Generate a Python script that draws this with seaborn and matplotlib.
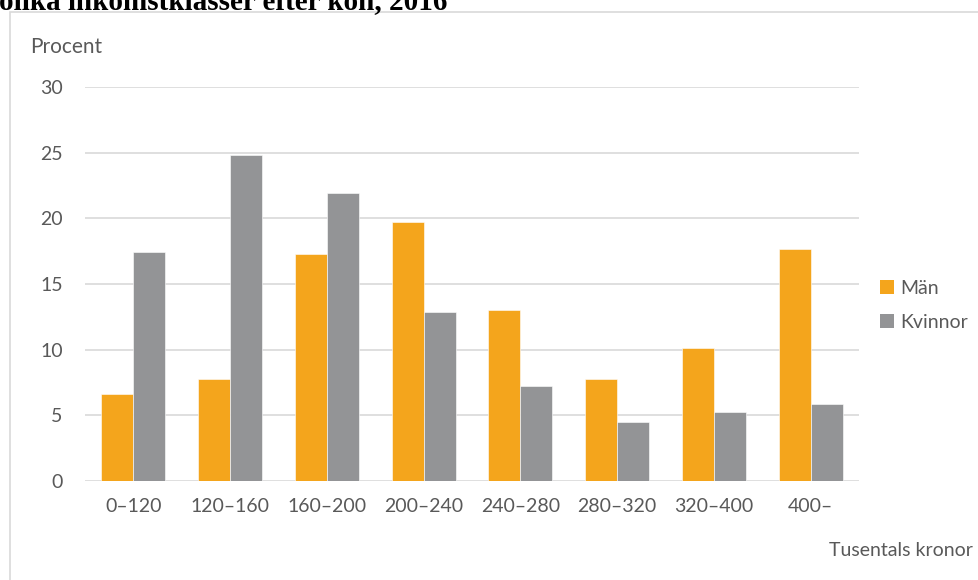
import matplotlib
matplotlib.use("Agg")
import matplotlib.pyplot as plt
import seaborn as sns
import pandas as pd
from matplotlib.patches import Rectangle, Patch

categories = ["0–120", "120–160", "160–200", "200–240", "240–280", "280–320", "320–400", "400–"]
man = [6.6, 7.75, 17.3, 19.7, 13.0, 7.75, 10.1, 17.7]
kvinnor = [17.4, 24.8, 21.9, 12.9, 7.25, 4.5, 5.25, 5.85]
series = ["Män", "Kvinnor"]
colors = ["#F4A51C", "#939496"]

df = pd.DataFrame({
    "klass": categories * 2,
    "varde": man + kvinnor,
    "kon": [series[0]] * len(categories) + [series[1]] * len(categories),
})

sns.set_theme(style="white")
plt.rcParams["font.family"] = ["Lato", "DejaVu Sans"]
text_color = "#595959"
fs = 14

fig = plt.figure(figsize=(9.79, 5.80), dpi=100)
W, H = 979, 580
ax = fig.add_axes([85 / W, 1 - 481 / H, (859 - 85) / W, (481 - 87) / H])

sns.barplot(data=df, x="klass", y="varde", hue="kon", palette=colors,
            saturation=1, width=0.66, ax=ax, legend=False,
            edgecolor="white", linewidth=0.4, zorder=3)

ax.set_ylim(0, 30)
ax.set_yticks([0, 5, 10, 15, 20, 25, 30])
ax.grid(axis="y", color="#D9D9D9", linewidth=1.2, zorder=0)
ax.grid(axis="x", visible=False)
ax.set_axisbelow(True)
for s in ax.spines.values():
    s.set_visible(False)
ax.tick_params(axis="both", length=0, colors=text_color, labelsize=fs)
ax.tick_params(axis="y", pad=16)
ax.tick_params(axis="x", pad=12)
ax.set_xlabel("")
ax.set_ylabel("")

fig.text(30 / W, 1 - 47 / H, "Procent", color=text_color, fontsize=fs + 1, va="center", ha="left")
fig.text(973 / W, 1 - 551 / H, "Tusentals kronor", color=text_color, fontsize=fs, va="center", ha="right")

handles = [Patch(facecolor=c, edgecolor="none") for c in colors]
leg = fig.legend(handles, series, loc="upper left", bbox_to_anchor=(862 / W, 1 - 262 / H),
                 frameon=False, fontsize=fs, handlelength=0.75, handleheight=0.75,
                 handletextpad=0.3, labelspacing=0.9, labelcolor=text_color)

fig.patches.append(Rectangle((10 / W, -0.1), 1.2, 1 - 12 / H + 0.1, transform=fig.transFigure,
                             facecolor="none", edgecolor="#D9D9D9", linewidth=1.2, zorder=0))

fig.text(-1 / W, 1 - 9 / H, "olika inkomstklasser efter kön, 2016", fontsize=21,
         fontweight="bold", family=["Liberation Serif", "DejaVu Serif"], va="baseline", ha="left",
         color="black")

fig.savefig("out.png", dpi=100)
